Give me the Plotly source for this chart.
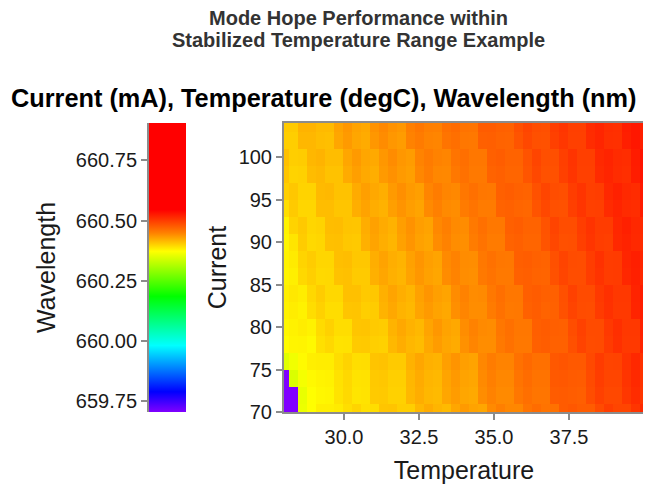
import plotly.graph_objects as go

# ---------------- data ----------------
temperature = [28.0, 28.3, 28.6, 28.9, 29.2, 29.5, 29.8, 30.1, 30.4, 30.7, 31.0, 31.3, 31.6, 31.9,
               32.2, 32.5, 32.8, 33.1, 33.4, 33.7, 34.0, 34.3, 34.6, 34.9, 35.2, 35.5, 35.8, 36.1,
               36.4, 36.7, 37.0, 37.3, 37.6, 37.9, 38.2, 38.5, 38.8, 39.1, 39.4, 39.7, 40.0]
current = [104, 102, 100, 98, 96, 94, 92, 90, 88, 86, 84, 82, 80, 78, 76, 74, 72, 70]

wl_104 = [660.404, 660.404, 660.418, 660.418, 660.414, 660.414, 660.428, 660.435, 660.428, 660.425, 660.438, 660.444, 660.438, 660.435, 660.450, 660.456, 660.450, 660.449, 660.461, 660.465, 660.459, 660.458, 660.476, 660.476, 660.473, 660.472, 660.485, 660.493, 660.487, 660.486, 660.499, 660.505, 660.498, 660.498, 660.513, 660.517, 660.511, 660.510, 660.523, 660.528, 660.522]
wl_102 = [660.402, 660.402, 660.416, 660.416, 660.412, 660.411, 660.426, 660.433, 660.426, 660.423, 660.435, 660.442, 660.435, 660.432, 660.448, 660.453, 660.447, 660.446, 660.458, 660.462, 660.456, 660.455, 660.473, 660.474, 660.471, 660.470, 660.482, 660.491, 660.485, 660.484, 660.497, 660.504, 660.497, 660.497, 660.512, 660.517, 660.510, 660.509, 660.522, 660.528, 660.522]
wl_100 = [660.410, 660.402, 660.403, 660.416, 660.418, 660.412, 660.412, 660.426, 660.433, 660.426, 660.424, 660.435, 660.442, 660.435, 660.432, 660.447, 660.453, 660.448, 660.446, 660.458, 660.462, 660.456, 660.456, 660.473, 660.475, 660.471, 660.471, 660.483, 660.493, 660.486, 660.486, 660.498, 660.506, 660.498, 660.498, 660.514, 660.518, 660.513, 660.511, 660.524, 660.531]
wl_98 = [660.407, 660.399, 660.400, 660.413, 660.415, 660.409, 660.409, 660.423, 660.430, 660.424, 660.421, 660.433, 660.439, 660.433, 660.430, 660.445, 660.451, 660.445, 660.444, 660.455, 660.460, 660.454, 660.454, 660.471, 660.473, 660.469, 660.469, 660.481, 660.491, 660.484, 660.484, 660.497, 660.505, 660.497, 660.497, 660.513, 660.517, 660.512, 660.510, 660.523, 660.530]
wl_96 = [660.401, 660.406, 660.399, 660.399, 660.414, 660.415, 660.409, 660.409, 660.423, 660.430, 660.425, 660.421, 660.433, 660.440, 660.433, 660.430, 660.446, 660.452, 660.446, 660.444, 660.456, 660.461, 660.456, 660.455, 660.473, 660.475, 660.472, 660.471, 660.484, 660.493, 660.487, 660.486, 660.499, 660.506, 660.498, 660.499, 660.515, 660.520, 660.514, 660.512, 660.526]
wl_94 = [660.392, 660.404, 660.397, 660.397, 660.412, 660.412, 660.407, 660.407, 660.421, 660.428, 660.422, 660.419, 660.430, 660.437, 660.431, 660.427, 660.443, 660.449, 660.443, 660.441, 660.453, 660.458, 660.453, 660.453, 660.471, 660.472, 660.469, 660.468, 660.482, 660.491, 660.485, 660.484, 660.498, 660.505, 660.497, 660.498, 660.513, 660.518, 660.513, 660.511, 660.525]
wl_92 = [660.380, 660.399, 660.405, 660.397, 660.399, 660.412, 660.413, 660.408, 660.407, 660.422, 660.429, 660.423, 660.419, 660.431, 660.438, 660.431, 660.428, 660.444, 660.450, 660.443, 660.442, 660.454, 660.461, 660.455, 660.455, 660.473, 660.475, 660.471, 660.471, 660.483, 660.494, 660.487, 660.487, 660.499, 660.507, 660.500, 660.500, 660.516, 660.521, 660.515, 660.514]
wl_90 = [660.378, 660.388, 660.403, 660.395, 660.397, 660.410, 660.411, 660.406, 660.405, 660.420, 660.427, 660.421, 660.417, 660.429, 660.436, 660.429, 660.426, 660.442, 660.448, 660.441, 660.440, 660.452, 660.459, 660.453, 660.453, 660.471, 660.473, 660.469, 660.469, 660.482, 660.492, 660.485, 660.486, 660.498, 660.505, 660.499, 660.498, 660.515, 660.519, 660.514, 660.513]
wl_88 = [660.380, 660.384, 660.398, 660.403, 660.397, 660.397, 660.411, 660.412, 660.406, 660.406, 660.421, 660.428, 660.421, 660.418, 660.429, 660.436, 660.430, 660.427, 660.443, 660.448, 660.442, 660.441, 660.455, 660.460, 660.456, 660.455, 660.474, 660.475, 660.472, 660.471, 660.485, 660.494, 660.488, 660.487, 660.499, 660.508, 660.500, 660.501, 660.517, 660.522, 660.517]
wl_86 = [660.379, 660.382, 660.396, 660.401, 660.395, 660.396, 660.409, 660.410, 660.404, 660.404, 660.420, 660.426, 660.420, 660.417, 660.428, 660.435, 660.429, 660.426, 660.442, 660.447, 660.441, 660.440, 660.454, 660.459, 660.454, 660.454, 660.472, 660.474, 660.471, 660.470, 660.484, 660.493, 660.487, 660.487, 660.499, 660.507, 660.500, 660.501, 660.516, 660.521, 660.516]
wl_84 = [660.382, 660.386, 660.383, 660.396, 660.403, 660.396, 660.396, 660.410, 660.410, 660.405, 660.406, 660.420, 660.427, 660.421, 660.417, 660.429, 660.436, 660.430, 660.427, 660.442, 660.448, 660.442, 660.443, 660.455, 660.462, 660.456, 660.456, 660.474, 660.476, 660.473, 660.473, 660.485, 660.496, 660.489, 660.489, 660.502, 660.509, 660.503, 660.503, 660.519, 660.524]
wl_82 = [660.380, 660.383, 660.380, 660.393, 660.400, 660.393, 660.393, 660.407, 660.408, 660.402, 660.403, 660.418, 660.425, 660.418, 660.415, 660.427, 660.433, 660.428, 660.425, 660.440, 660.446, 660.441, 660.441, 660.453, 660.460, 660.454, 660.455, 660.472, 660.475, 660.471, 660.472, 660.484, 660.494, 660.488, 660.487, 660.501, 660.508, 660.502, 660.502, 660.518, 660.523]
wl_80 = [660.377, 660.380, 660.383, 660.380, 660.394, 660.400, 660.393, 660.393, 660.407, 660.408, 660.404, 660.403, 660.418, 660.425, 660.419, 660.415, 660.427, 660.435, 660.428, 660.425, 660.441, 660.448, 660.443, 660.442, 660.456, 660.461, 660.456, 660.456, 660.474, 660.476, 660.474, 660.473, 660.487, 660.496, 660.489, 660.489, 660.502, 660.510, 660.503, 660.503, 660.520]
wl_78 = [660.374, 660.378, 660.379, 660.376, 660.391, 660.396, 660.389, 660.390, 660.404, 660.405, 660.401, 660.400, 660.415, 660.422, 660.416, 660.413, 660.425, 660.432, 660.426, 660.423, 660.439, 660.446, 660.441, 660.441, 660.454, 660.460, 660.455, 660.455, 660.473, 660.475, 660.472, 660.472, 660.485, 660.495, 660.488, 660.489, 660.501, 660.509, 660.502, 660.502, 660.519]
wl_76 = [660.350, 660.362, 660.375, 660.382, 660.383, 660.383, 660.393, 660.399, 660.392, 660.393, 660.408, 660.409, 660.404, 660.404, 660.419, 660.426, 660.420, 660.418, 660.430, 660.437, 660.430, 660.428, 660.445, 660.452, 660.447, 660.447, 660.460, 660.466, 660.461, 660.461, 660.479, 660.481, 660.478, 660.478, 660.490, 660.501, 660.494, 660.495, 660.507, 660.515, 660.508]
wl_74 = [659.705, 660.345, 660.365, 660.376, 660.379, 660.380, 660.390, 660.396, 660.389, 660.390, 660.405, 660.406, 660.401, 660.401, 660.416, 660.423, 660.417, 660.415, 660.427, 660.434, 660.428, 660.426, 660.443, 660.450, 660.445, 660.445, 660.458, 660.464, 660.459, 660.459, 660.478, 660.479, 660.477, 660.476, 660.489, 660.499, 660.493, 660.493, 660.506, 660.514, 660.507]
wl_72 = [659.705, 659.705, 660.356, 660.373, 660.377, 660.378, 660.389, 660.395, 660.388, 660.389, 660.404, 660.405, 660.400, 660.400, 660.415, 660.422, 660.416, 660.414, 660.426, 660.432, 660.426, 660.424, 660.441, 660.448, 660.443, 660.443, 660.456, 660.462, 660.457, 660.457, 660.476, 660.477, 660.475, 660.474, 660.487, 660.497, 660.491, 660.491, 660.504, 660.512, 660.505]
wl_70 = [659.705, 659.705, 660.358, 660.373, 660.382, 660.382, 660.384, 660.392, 660.398, 660.391, 660.393, 660.407, 660.408, 660.402, 660.402, 660.416, 660.423, 660.417, 660.414, 660.426, 660.433, 660.428, 660.426, 660.443, 660.450, 660.445, 660.445, 660.458, 660.464, 660.459, 660.460, 660.477, 660.480, 660.476, 660.476, 660.489, 660.499, 660.493, 660.493, 660.505, 660.514]

wavelength = [wl_104, wl_102, wl_100, wl_98, wl_96, wl_94, wl_92, wl_90, wl_88, wl_86,
              wl_84, wl_82, wl_80, wl_78, wl_76, wl_74, wl_72, wl_70]

temp_ticks = [30.0, 32.5, 35.0, 37.5]
current_ticks = [70, 75, 80, 85, 90, 95, 100]
wavelength_ticks = [659.75, 660.00, 660.25, 660.50, 660.75]
wl_min, wl_max = 659.705, 660.905
temp_range = [28.0, 40.0]
current_range = [70, 104]

# ---------------- layout helpers ----------------
# the page body adds an 8px offset; the figure is sized so the window shows it all
OFF = 8
FW, FH = 651 - OFF, 489 - OFF
ML, MR, MT, MB = 2, 7, 115, 77
PW = FW - ML - MR
PH = FH - MT - MB


def fx(px):  # screen px -> paper fraction
    return (px - OFF - ML) / PW


def fy(py):
    return (FH - MB - (py - OFF)) / PH


FONT = "Liberation Sans, Arial, sans-serif"
GRAY = "#8c8c8c"
TICKC = "#1a1a1a"

colorscale = [
    [0.0, "#8000ff"],
    [0.07, "#0000ff"],
    [0.23, "#00ffff"],
    [0.40, "#00ff00"],
    [0.556, "#ffff00"],
    [0.62, "#ff8000"],
    [0.70, "#ff0000"],
    [1.0, "#ff0000"],
]

fig = go.Figure()
fig.add_trace(go.Heatmap(
    x=temperature, y=current, z=wavelength,
    colorscale=colorscale, zmin=wl_min, zmax=wl_max,
    colorbar=dict(
        x=fx(149), xanchor="left", xref="paper",
        y=0.5, yanchor="middle", len=1, lenmode="fraction",
        thickness=37, thicknessmode="pixels", xpad=0, ypad=0,
        outlinewidth=0, showticklabels=False, ticks="",
    ),
    hovertemplate="T=%{x}<br>I=%{y}<br>WL=%{z}<extra></extra>",
))
fig.add_trace(go.Scatter(x=[None], y=[None], yaxis="y2", showlegend=False, hoverinfo="skip"))

axis_common = dict(
    ticks="outside", ticklen=6, tickwidth=2, tickcolor=GRAY,
    showline=True, linecolor=GRAY, linewidth=2,
    showgrid=False, zeroline=False,
    tickfont=dict(family=FONT, size=20, color=TICKC),
)
title_font = dict(family=FONT, size=25, color=TICKC)

fig.update_layout(
    width=FW, height=FH,
    margin=dict(l=ML, r=MR, t=MT, b=MB, autoexpand=False),
    paper_bgcolor="white", plot_bgcolor="white",
    font=dict(family=FONT, color=TICKC),
    showlegend=False,
    xaxis=dict(
        domain=[fx(284), 1.0], range=temp_range, tickvals=temp_ticks, tickformat=".1f",
        mirror=True,
        title=dict(text="Temperature", font=title_font, standoff=14),
        **axis_common,
    ),
    yaxis=dict(
        range=current_range, tickvals=current_ticks, mirror=True,
        title=dict(text="Current", font=title_font, standoff=5),
        **axis_common,
    ),
    yaxis2=dict(
        overlaying="y", anchor="free", position=fx(148), side="left",
        range=[wl_min, wl_max], tickvals=wavelength_ticks, tickformat=".2f",
        title=dict(text="Wavelength", font=title_font, standoff=12),
        **axis_common,
    ),
    annotations=[
        dict(text="<b>Mode Hope Performance within</b>", x=fx(358), y=fy(18), xref="paper", yref="paper",
             xanchor="center", yanchor="middle", showarrow=False,
             font=dict(family=FONT, size=20, color="#333333")),
        dict(text="<b>Stabilized Temperature Range Example</b>", x=fx(358), y=fy(40), xref="paper", yref="paper",
             xanchor="center", yanchor="middle", showarrow=False,
             font=dict(family=FONT, size=20, color="#333333")),
        dict(text="<b>Current (mA), Temperature (degC), Wavelength (nm)</b>", x=fx(323), y=fy(98),
             xref="paper", yref="paper", xanchor="center", yanchor="middle", showarrow=False,
             font=dict(family=FONT, size=25.3, color="#000000")),
    ],
)

fig.write_html("out.html")
